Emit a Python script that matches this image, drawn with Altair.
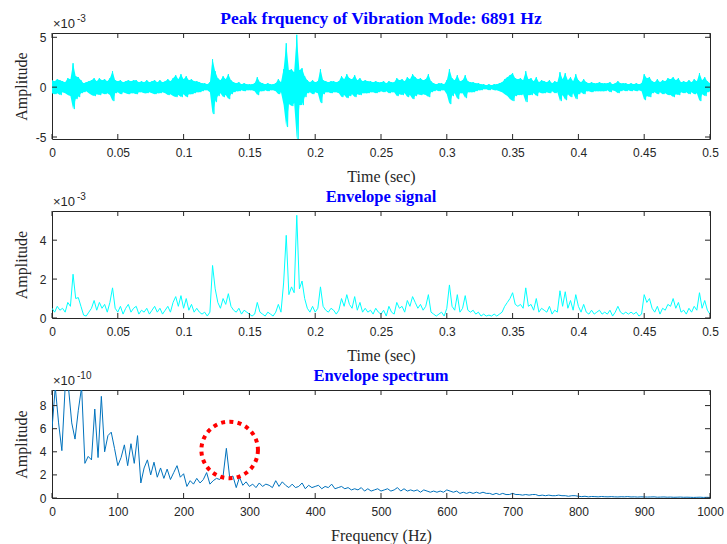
import altair as alt
import pandas as pd

# ---------------- data ----------------
# Panel 1: vibration signal, upper / lower extent of the band every 2 ms (x1e-3)
sig_upper = [
    0.7, 0.6, 0.8, 0.7, 0.6, 0.5, 0.9, 0.8, 2.4, 1.1,
    1.0, 0.7, 0.4, 0.5, 0.6, 0.7, 0.9, 0.6, 0.9, 0.7,
    0.8, 0.6, 0.9, 1.6, 0.7, 0.6, 0.7, 0.5, 0.6, 0.7,
    0.6, 0.7, 0.7, 0.5, 0.6, 0.5, 0.7, 0.5, 0.6, 0.7,
    0.5, 0.7, 0.5, 0.6, 0.8, 0.6, 0.9, 1.2, 0.8, 1.3,
    0.8, 1.1, 0.7, 0.8, 0.6, 0.6, 0.5, 0.4, 0.4, 0.3,
    0.5, 2.8, 1.6, 0.9, 0.7, 1.1, 0.8, 1.3, 0.7, 0.5,
    0.4, 0.5, 0.3, 0.4, 0.3, 0.3, 0.3, 0.4, 1.0, 0.5,
    0.4, 0.3, 0.4, 0.3, 0.3, 0.4, 0.8, 0.5, 1.8, 4.4,
    1.7, 1.8, 1.5, 5.25, 1.7, 1.9, 1.1, 0.7, 0.5, 0.7,
    0.5, 0.6, 1.8, 0.7, 0.6, 0.5, 0.6, 0.6, 0.5, 0.6,
    1.1, 0.8, 1.3, 0.9, 0.8, 1.2, 0.7, 0.9, 0.6, 0.7,
    0.6, 0.6, 0.5, 0.6, 0.5, 0.5, 0.6, 0.4, 0.6, 0.5,
    0.5, 0.9, 0.7, 0.8, 0.6, 1.0, 0.8, 1.3, 1.0, 0.8,
    0.9, 0.7, 0.8, 1.3, 0.6, 0.4, 0.3, 0.4, 0.4, 0.3,
    0.7, 1.8, 0.9, 0.7, 1.2, 0.6, 0.7, 1.2, 0.6, 0.5,
    0.5, 0.4, 0.4, 0.3, 0.3, 0.2, 0.3, 0.2, 0.3, 0.3,
    0.4, 0.5, 0.8, 1.0, 1.2, 1.4, 0.9, 0.8, 0.9, 0.7,
    1.6, 0.8, 0.9, 0.6, 1.0, 0.5, 0.7, 0.6, 0.5, 0.7,
    0.4, 0.6, 0.5, 1.5, 0.8, 1.4, 0.7, 1.0, 0.6, 1.3,
    0.7, 0.5, 0.8, 0.5, 0.4, 0.5, 0.4, 0.4, 0.5, 0.4,
    0.4, 0.4, 0.5, 0.3, 0.4, 0.6, 0.4, 0.4, 0.4, 0.3,
    0.4, 0.3, 0.4, 0.3, 0.4, 1.3, 0.9, 1.0, 0.6, 0.5,
    0.8, 0.5, 0.7, 0.6, 0.9, 0.8, 1.0, 0.7, 0.9, 0.5,
    0.6, 0.5, 0.7, 0.5, 0.8, 0.6, 1.4, 0.7, 1.0, 0.6,
    0.4,
]
sig_lower = [
    -0.6, -0.7, -0.6, -0.8, -0.5, -0.6, -0.8, -0.9, -2.2, -1.2,
    -1.0, -0.6, -0.5, -0.4, -0.6, -0.8, -0.9, -0.7, -0.8, -0.6,
    -0.7, -0.6, -0.8, -1.4, -0.6, -0.5, -0.7, -0.5, -0.6, -0.7,
    -0.6, -0.6, -0.7, -0.5, -0.5, -0.6, -0.6, -0.5, -0.6, -0.7,
    -0.6, -0.6, -0.5, -0.6, -0.8, -0.7, -0.9, -1.0, -0.8, -1.0,
    -0.7, -1.0, -0.7, -0.7, -0.6, -0.5, -0.5, -0.4, -0.3, -0.3,
    -0.5, -2.7, -1.5, -0.9, -0.6, -1.0, -0.8, -1.2, -0.7, -0.5,
    -0.4, -0.4, -0.3, -0.4, -0.3, -0.3, -0.3, -0.4, -0.8, -0.4,
    -0.4, -0.3, -0.4, -0.3, -0.3, -0.4, -0.7, -0.5, -1.8, -4.0,
    -1.7, -1.9, -1.6, -5.2, -1.8, -1.8, -1.0, -0.6, -0.5, -0.7,
    -0.5, -0.6, -1.6, -0.7, -0.5, -0.5, -0.6, -0.5, -0.5, -0.6,
    -1.0, -0.8, -1.1, -0.9, -0.7, -1.0, -0.7, -0.8, -0.6, -0.6,
    -0.6, -0.5, -0.5, -0.6, -0.5, -0.4, -0.5, -0.4, -0.6, -0.5,
    -0.5, -0.9, -0.7, -0.8, -0.6, -1.0, -0.8, -1.2, -0.9, -0.7,
    -0.8, -0.7, -0.8, -1.0, -0.5, -0.4, -0.3, -0.4, -0.3, -0.3,
    -0.7, -1.7, -0.9, -0.6, -1.2, -0.6, -0.6, -1.1, -0.5, -0.5,
    -0.5, -0.4, -0.3, -0.3, -0.2, -0.2, -0.3, -0.2, -0.3, -0.3,
    -0.4, -0.5, -0.7, -0.9, -1.2, -1.4, -0.9, -0.8, -0.8, -0.7,
    -1.5, -0.8, -0.8, -0.6, -0.9, -0.5, -0.6, -0.6, -0.5, -0.6,
    -0.4, -0.6, -0.5, -1.4, -0.8, -1.3, -0.7, -1.0, -0.6, -1.2,
    -0.7, -0.5, -0.7, -0.4, -0.4, -0.5, -0.4, -0.4, -0.4, -0.4,
    -0.4, -0.3, -0.5, -0.3, -0.4, -0.6, -0.4, -0.3, -0.4, -0.3,
    -0.4, -0.3, -0.4, -0.3, -0.4, -1.3, -0.9, -1.0, -0.6, -0.5,
    -0.7, -0.5, -0.7, -0.6, -0.8, -0.8, -1.0, -0.7, -0.8, -0.5,
    -0.6, -0.5, -0.7, -0.5, -0.7, -0.6, -1.4, -0.7, -0.9, -0.5,
    -0.4,
]
# Panel 2: envelope signal every 2 ms (x1e-3)
envelope = [
    0.5, 0.3, 0.6, 0.4, 0.5, 0.3, 0.8, 0.6, 2.25, 1.0,
    1.05, 0.6, 0.15, 0.1, 0.3, 0.5, 0.9, 0.4, 0.8, 0.5,
    0.7, 0.3, 0.8, 1.55, 0.5, 0.3, 0.6, 0.2, 0.5, 0.7,
    0.3, 0.5, 0.6, 0.2, 0.4, 0.3, 0.5, 0.2, 0.4, 0.6,
    0.3, 0.5, 0.2, 0.4, 0.6, 0.3, 0.8, 1.1, 0.6, 1.15,
    0.5, 1.0, 0.4, 0.7, 0.3, 0.5, 0.3, 0.2, 0.3, 0.1,
    0.3, 2.7, 1.5, 0.8, 0.5, 1.0, 0.7, 1.25, 0.6, 0.4,
    0.3, 0.5, 0.2, 0.4, 0.3, 0.2, 0.1, 0.2, 0.8, 0.3,
    0.2, 0.1, 0.3, 0.2, 0.1, 0.3, 0.7, 0.3, 1.8, 4.25,
    1.2, 1.6, 1.3, 5.28, 1.5, 1.9, 1.0, 0.5, 0.3, 0.6,
    0.3, 0.5, 1.6, 0.6, 0.4, 0.3, 0.5, 0.4, 0.2, 0.4,
    1.0, 0.6, 1.2, 0.7, 0.5, 1.1, 0.4, 0.8, 0.3, 0.5,
    0.3, 0.4, 0.2, 0.5, 0.3, 0.2, 0.4, 0.1, 0.6, 0.3,
    0.2, 0.8, 0.5, 0.6, 0.3, 0.9, 0.6, 1.1, 0.8, 0.5,
    0.7, 0.4, 0.6, 1.2, 0.3, 0.2, 0.1, 0.2, 0.3, 0.1,
    0.5, 1.7, 0.6, 0.4, 1.2, 0.3, 0.5, 1.15, 0.4, 0.3,
    0.4, 0.2, 0.3, 0.1, 0.2, 0.1, 0.15, 0.1, 0.2, 0.1,
    0.2, 0.3, 0.6, 0.8, 1.0, 1.3, 0.7, 0.6, 0.7, 0.5,
    1.55, 0.6, 0.7, 0.4, 1.0, 0.3, 0.5, 0.4, 0.3, 0.6,
    0.2, 0.4, 0.3, 1.4, 0.6, 1.35, 0.5, 0.9, 0.4, 1.2,
    0.6, 0.3, 0.7, 0.3, 0.2, 0.4, 0.2, 0.3, 0.4, 0.2,
    0.3, 0.2, 0.4, 0.1, 0.3, 0.6, 0.3, 0.2, 0.3, 0.2,
    0.3, 0.2, 0.3, 0.1, 0.2, 1.2, 0.8, 1.0, 0.5, 0.3,
    0.6, 0.2, 0.5, 0.4, 0.7, 0.6, 1.0, 0.5, 0.8, 0.3,
    0.4, 0.2, 0.5, 0.3, 0.6, 0.4, 1.3, 0.5, 0.9, 0.4,
    0.2,
]
# Panel 3: envelope spectrum every 5 Hz (x1e-10)
spectrum = [
    6.0, 9.6, 6.5, 4.1, 9.6, 9.6, 6.5, 5.1, 7.6, 9.6,
    3.0, 3.6, 3.3, 7.7, 3.5, 8.8, 4.0, 5.4, 5.7, 4.3,
    2.8, 3.5, 4.6, 2.8, 4.7, 3.0, 5.4, 1.3, 2.6, 3.3,
    2.0, 3.1, 1.8, 2.6, 1.7, 2.5, 1.6, 2.2, 2.8, 1.8,
    2.1, 1.0, 1.5, 1.2, 1.7, 1.3, 1.6, 2.2, 1.2, 1.5,
    1.7, 1.6, 1.9, 4.3, 1.8, 1.9, 0.9, 1.8, 1.1, 1.4,
    1.0, 1.2, 0.9, 1.3, 1.0, 1.2, 1.1, 0.9, 1.5, 1.0,
    1.4, 1.1, 0.9, 1.2, 0.9, 1.0, 1.3, 0.8, 1.1, 0.9,
    1.0, 1.1, 0.8, 1.0, 0.9, 1.2, 0.8, 0.9, 1.0, 0.8,
    0.9, 0.7, 0.8, 0.7, 0.9, 0.6, 0.8, 0.6, 0.7, 0.8,
    0.6, 0.7, 0.8, 0.6, 0.7, 0.9, 0.6, 0.8, 0.6, 0.7,
    0.6, 0.7, 0.5, 0.7, 0.6, 0.5, 0.6, 0.5, 0.6, 0.5,
    0.7, 0.6, 0.5, 0.6, 0.4, 0.5, 0.4, 0.5, 0.4, 0.5,
    0.4, 0.5, 0.4, 0.4, 0.3, 0.4, 0.3, 0.4, 0.3, 0.3,
    0.4, 0.3, 0.3, 0.25, 0.3, 0.25, 0.3, 0.3, 0.2, 0.25,
    0.2, 0.25, 0.2, 0.2, 0.25, 0.2, 0.2, 0.15, 0.2, 0.2,
    0.15, 0.12, 0.15, 0.1, 0.13, 0.12, 0.1, 0.13, 0.11, 0.1,
    0.12, 0.1, 0.09, 0.11, 0.1, 0.12, 0.09, 0.1, 0.08, 0.1,
    0.09, 0.08, 0.09, 0.1, 0.07, 0.08, 0.09, 0.07, 0.08, 0.06,
    0.07, 0.08, 0.06, 0.07, 0.06, 0.05, 0.06, 0.07, 0.05, 0.06,
    0.05,
]
dt = 0.002   # s
df = 5.0     # Hz

time_ticks = [0, 0.05, 0.1, 0.15, 0.2, 0.25, 0.3, 0.35, 0.4, 0.45, 0.5]
freq_ticks = [0, 100, 200, 300, 400, 500, 600, 700, 800, 900, 1000]
sig_ticks = [-5, 0, 5]
env_ticks = [0, 2, 4]
spec_ticks = [0, 2, 4, 6, 8]

titles = ["Peak frquency of Vibration Mode: 6891 Hz", "Envelope signal", "Envelope spectrum"]
exponents = ["-3", "-3", "-10"]
circle_freq = [270]
circle_amp = [4.16]

# ---------------- tables ----------------
rows = []
for i, (u, l) in enumerate(zip(sig_upper, sig_lower)):
    rows.append({"t": i * dt, "a": u})
    rows.append({"t": i * dt + dt / 2, "a": l})
sig_df = pd.DataFrame(rows)
band_df = pd.DataFrame({"t": [i * dt for i in range(len(sig_upper))], "a": sig_upper, "b": sig_lower})
env_df = pd.DataFrame({"t": [i * dt for i in range(len(envelope))], "a": envelope})
spec_df = pd.DataFrame({"f": [i * df for i in range(len(spectrum))], "a": spectrum})

W = 658
DARK = "#262626"
TICK = 5


def x_axis(vals, title):
    return alt.Axis(values=vals, title=title, ticks=False, tickSize=0, domain=False, grid=False,
                    labelExpr="toString(datum.value)", labelFont="Liberation Sans", labelFontSize=12,
                    labelColor=DARK, labelPadding=8, labelFlush=False, labelOverlap=False,
                    titleFont="Liberation Serif", titleFontSize=16, titleFontWeight="normal",
                    titleColor=DARK, titleX=W / 2, titleY=42, titleBaseline="alphabetic",
                    titleAlign="center")


def y_axis(vals, h):
    return alt.Axis(values=vals, title="Amplitude", ticks=False, tickSize=0, domain=False, grid=False,
                    labelExpr="toString(datum.value)", labelFont="Liberation Sans", labelFontSize=12,
                    labelColor=DARK, labelPadding=6, labelFlush=False, labelOverlap=False,
                    titleFont="Liberation Serif", titleFontSize=16, titleFontWeight="normal",
                    titleColor=DARK, titleX=-26, titleY=h / 2, titleAngle=270,
                    titleBaseline="alphabetic", titleAlign="center")


def panel(layers_data, xfield, xdom, xticks, xtitle, ydom, yticks, h, color, title, expo,
          title_size=16.5, band=None, extra=None):
    xs = alt.Scale(domain=xdom, nice=False, zero=False)
    ys = alt.Scale(domain=ydom, nice=False, zero=False)
    xa = x_axis(xticks, xtitle)
    ya = y_axis(yticks, h)
    layers = []
    if band is not None:
        layers.append(alt.Chart(band).mark_area(color=color, opacity=1, clip=True).encode(
            x=alt.X(f"{xfield}:Q", scale=xs, axis=xa),
            y=alt.Y("a:Q", scale=ys, axis=ya), y2="b:Q"))
    layers.append(alt.Chart(layers_data).mark_line(color=color, strokeWidth=1, clip=True).encode(
        x=alt.X(f"{xfield}:Q", scale=xs, axis=xa),
        y=alt.Y("a:Q", scale=ys, axis=ya),
    ))
    if extra is not None:
        d, xf, yf = extra
        layers.append(alt.Chart(d).mark_point(
            shape="circle", size=3200, filled=False, color="#FF0000", strokeWidth=4,
            strokeDash=[4, 4.3], opacity=1).encode(
            x=alt.X(f"{xf}:Q", scale=xs, axis=xa), y=alt.Y(f"{yf}:Q", scale=ys, axis=ya)))
    xt = pd.DataFrame({xfield: xticks})
    yt = pd.DataFrame({"a": yticks})
    layers.append(alt.Chart(xt).mark_rule(color=DARK, strokeWidth=1).encode(
        x=alt.X(f"{xfield}:Q", scale=xs, axis=xa), y=alt.value(h), y2=alt.value(h - TICK)))
    layers.append(alt.Chart(xt).mark_rule(color=DARK, strokeWidth=1).encode(
        x=alt.X(f"{xfield}:Q", scale=xs, axis=xa), y=alt.value(0), y2=alt.value(TICK)))
    layers.append(alt.Chart(yt).mark_rule(color=DARK, strokeWidth=1).encode(
        y=alt.Y("a:Q", scale=ys, axis=ya), x=alt.value(0), x2=alt.value(TICK)))
    layers.append(alt.Chart(yt).mark_rule(color=DARK, strokeWidth=1).encode(
        y=alt.Y("a:Q", scale=ys, axis=ya), x=alt.value(W - TICK), x2=alt.value(W)))
    layers.append(alt.Chart(pd.DataFrame({"s": [title]})).mark_text(
        font="Liberation Serif", fontSize=title_size, fontWeight="bold", color="#0000FF",
        align="center", baseline="alphabetic").encode(
        x=alt.value(W / 2), y=alt.value(-9), text="s:N"))
    layers.append(alt.Chart(pd.DataFrame({"s": ["\u00d710"]})).mark_text(
        font="Liberation Sans", fontSize=13, color=DARK, align="left", baseline="alphabetic").encode(
        x=alt.value(1), y=alt.value(-5), text="s:N"))
    layers.append(alt.Chart(pd.DataFrame({"s": [expo]})).mark_text(
        font="Liberation Sans", fontSize=10, color=DARK, align="left", baseline="alphabetic").encode(
        x=alt.value(25), y=alt.value(-11), text="s:N"))
    return alt.layer(*layers).properties(width=W, height=h)


p1 = panel(sig_df, "t", [0, 0.5], time_ticks, "Time (sec)", [-5.2, 5.43], sig_ticks, 106,
           "#00FFFF", titles[0], exponents[0], title_size=17.5, band=band_df)
p2 = panel(env_df, "t", [0, 0.5], time_ticks, "Time (sec)", [0, 5.5], env_ticks, 107,
           "#00FFFF", titles[1], exponents[1])
circ_df = pd.DataFrame({"f": circle_freq, "a": circle_amp})
p3 = panel(spec_df, "f", [0, 1000], freq_ticks, "Frequency (Hz)", [0, 9.35], spec_ticks, 108,
           "#0072BD", titles[2], exponents[2], extra=(circ_df, "f", "a"))

chart = alt.vconcat(p1, p2, p3, spacing=72, bounds="flush").properties(
    padding={"left": 12, "top": 9, "right": 3, "bottom": 0},
    background="white",
).configure_view(stroke=DARK, strokeWidth=1)

chart.save("out.html", embed_options={"renderer": "svg", "actions": False})
